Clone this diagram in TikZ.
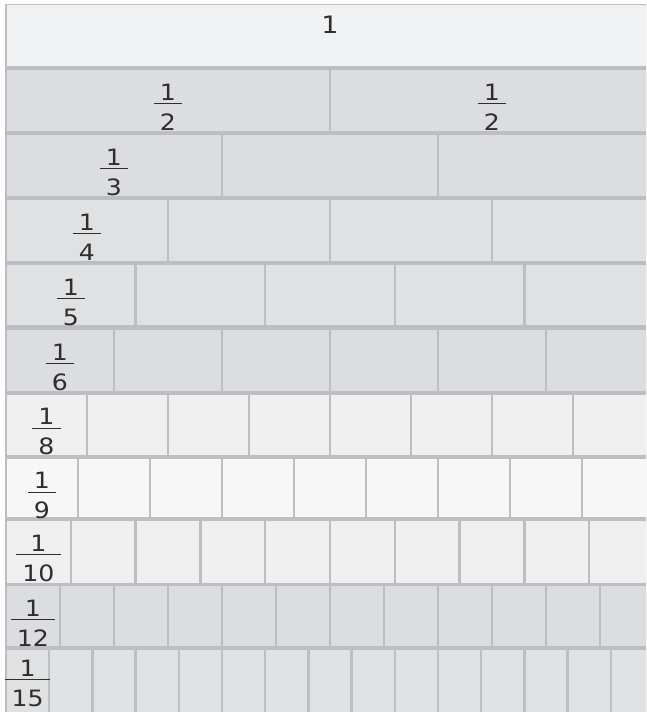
\documentclass[tikz,border=0pt]{standalone}
\usepackage{fontspec}
\setmainfont{DejaVu Sans}[FakeStretch=1.12]

\definecolor{stripline}{HTML}{BDBEC1}
\definecolor{digitgray}{HTML}{2E2E2E}
\definecolor{wholefill}{HTML}{F1F2F4}
\definecolor{darkfill}{HTML}{DCDDE0}
\definecolor{midfill}{HTML}{E0E1E3}
\definecolor{lightfill}{HTML}{EFEFF0}
\definecolor{palefill}{HTML}{F7F7F7}

% one row of the fraction wall: #1 pieces, #2 top, #3 bottom, #4 fill
\newcommand{\wallrow}[4]{%
  \foreach \k in {1,...,#1}{
    \fill[#4] ({6+648*(\k-1)/#1+1.2},#2) rectangle ({6+648*\k/#1-1.2},#3);
  }%
}
% label 1/n in the first piece: #1 name, #2 pieces, #3 row top
\newcommand{\wallfrac}[3]{%
  \node[numtext,anchor=base] (#1num) at ({6+324/#2},{#3+30}) {1};
  \node[dentext,anchor=base] (#1den) at ({6+324/#2},{#3+60}) {#2};
  \draw[fracbar] (#1den.north west) -- (#1den.north east);
}

\begin{document}
\begin{tikzpicture}[x=1pt,y=-1pt,
    numtext/.style={font=\fontsize{22.5}{22.5}\selectfont,text=digitgray,inner sep=0pt},
    dentext/.style={numtext,inner xsep=6pt,inner ysep=0pt,text height=26pt,text depth=0pt},
    fracbar/.style={draw=digitgray,line width=0.9pt}]
  \useasboundingbox (0,0) rectangle (646,712);
  \clip (0,0) rectangle (646,712);

  % grey joints behind the pieces
  \fill[stripline] (5,4) rectangle (660,720);

  % the rows, whole down to fifteenths
  \wallrow{1}{5.3}{65.7}{wholefill}
  \wallrow{2}{70}{131}{darkfill}
  \wallrow{3}{135}{196}{darkfill}
  \wallrow{4}{200}{260.7}{midfill}
  \wallrow{5}{265}{325}{midfill}
  \wallrow{6}{330}{390.7}{darkfill}
  \wallrow{8}{394.5}{455}{lightfill}
  \wallrow{9}{458.5}{516.7}{palefill}
  \wallrow{10}{521}{582.7}{lightfill}
  \wallrow{12}{586}{645.7}{darkfill}
  \wallrow{15}{650}{714}{midfill}

  % labels
  \node[numtext,font=\fontsize{24}{24}\selectfont,anchor=base] (whole) at (330,33) {1};
  \node[numtext,anchor=base] (halfrnum) at (492,100) {1};
  \node[dentext,anchor=base] (halfrden) at (492,130) {2};
  \draw[fracbar] (halfrden.north west) -- (halfrden.north east);
  \wallfrac{half}{2}{70}
  \wallfrac{third}{3}{135}
  \wallfrac{quarter}{4}{200}
  \wallfrac{fifth}{5}{265}
  \wallfrac{sixth}{6}{330}
  \wallfrac{eighth}{8}{394.5}
  \wallfrac{ninth}{9}{458.5}
  \wallfrac{tenth}{10}{521}
  \wallfrac{twelfth}{12}{586}
  \wallfrac{fifteenth}{15}{646}
\end{tikzpicture}
\end{document}
